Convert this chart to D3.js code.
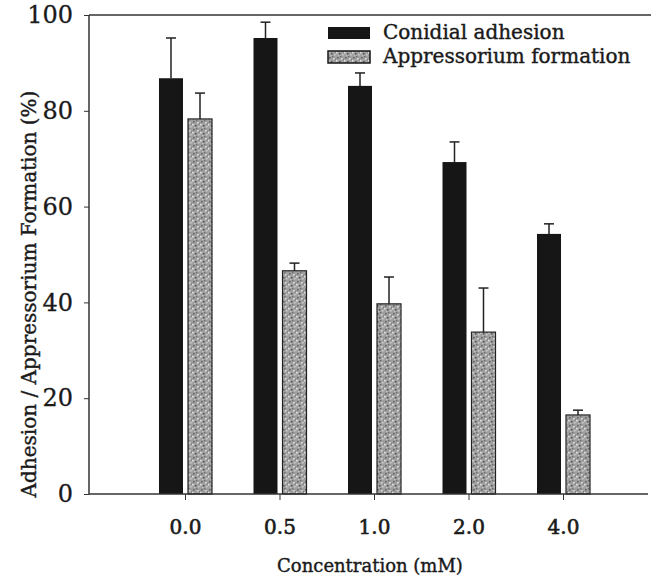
<!DOCTYPE html>
<html>
<head>
<meta charset="utf-8">
<script src="https://cdn.jsdelivr.net/npm/d3@7"></script>
<style>
  body { margin: 0; background: #fff; }
  svg text { font-family: "DejaVu Serif", serif; fill: #1a1a1a; }
</style>
</head>
<body>
<svg id="chart" width="651" height="577"></svg>
<script>
const categories = ['0.0', '0.5', '1.0', '2.0', '4.0'];
const adhesion = [86.8, 95.2, 85.2, 69.3, 54.3];
const adhesionErr = [8.4, 3.3, 2.7, 4.2, 2.1];
const appressorium = [78.3, 46.6, 39.7, 33.8, 16.5];
const appressoriumErr = [5.4, 1.6, 5.6, 9.2, 1.0];
const yTicks = [0, 20, 40, 60, 80, 100];
const seriesNames = ['Conidial adhesion', 'Appressorium formation'];

const svg = d3.select('#chart');
const plotL = 89, plotR = 648, plotT = 15, plotB = 494;

// speckled grey fill for the second series
const defs = svg.append('defs');
const pat = defs.append('pattern')
  .attr('id', 'speckle').attr('patternUnits', 'userSpaceOnUse')
  .attr('width', 8).attr('height', 8);
pat.append('rect').attr('width', 8).attr('height', 8).attr('fill', '#a0a0a0');
const dots = [[1, 1, '#5a5a5a'], [5, 2, '#dcdcdc'], [3, 5, '#505050'], [6, 6, '#cfcfcf'], [0, 4, '#e4e4e4'], [4, 0, '#707070'], [7, 3, '#808080'], [2, 7, '#bdbdbd']];
pat.selectAll('rect.d').data(dots).enter().append('rect')
  .attr('class', 'd').attr('x', d => d[0]).attr('y', d => d[1])
  .attr('width', 1.5).attr('height', 1.5).attr('fill', d => d[2]);

const x = d3.scalePoint().domain(categories).range([185, 563]);
const y = d3.scaleLinear().domain([0, 100]).range([plotB, plotT]);

const barW = 24;

// top frame line
svg.append('line').attr('x1', plotL).attr('x2', 651).attr('y1', plotT).attr('y2', plotT)
  .attr('stroke', '#333').attr('stroke-width', 1.5);

// bars
const g = svg.append('g');
g.selectAll('.b1').data(adhesion).enter().append('rect')
  .attr('class', 'b1')
  .attr('x', (d, i) => x(categories[i]) - 26)
  .attr('y', d => y(d))
  .attr('width', barW)
  .attr('height', d => plotB - y(d))
  .attr('fill', '#161616');
g.selectAll('.b2').data(appressorium).enter().append('rect')
  .attr('class', 'b2')
  .attr('x', (d, i) => x(categories[i]) + 3)
  .attr('y', d => y(d))
  .attr('width', barW)
  .attr('height', d => plotB - y(d))
  .attr('fill', 'url(#speckle)')
  .attr('stroke', '#222').attr('stroke-width', 1.2);

// error bars (upper only)
function errBars(vals, errs, off) {
  const eg = g.append('g').attr('stroke', '#222').attr('stroke-width', 1.5);
  vals.forEach((v, i) => {
    const cx = x(categories[i]) + off;
    eg.append('line').attr('x1', cx).attr('x2', cx).attr('y1', y(v)).attr('y2', y(v + errs[i]));
    eg.append('line').attr('x1', cx - 5).attr('x2', cx + 5).attr('y1', y(v + errs[i])).attr('y2', y(v + errs[i]));
  });
}
errBars(adhesion, adhesionErr, -14);
errBars(appressorium, appressoriumErr, 15);

// axes
const yAxis = svg.append('g').attr('transform', `translate(${plotL},0)`)
  .call(d3.axisLeft(y).tickValues(yTicks).tickSize(5).tickPadding(11).tickFormat(d3.format('d')));
yAxis.select('.domain').attr('stroke', '#333').attr('stroke-width', 1.5).attr('d', `M0,${plotT}V${plotB}`);
yAxis.selectAll('.tick line').attr('stroke', '#333');
yAxis.selectAll('.tick text').attr('font-size', 24).attr('fill', '#1a1a1a')
  .attr('font-family', '"Liberation Serif", serif').attr('stroke', '#1a1a1a').attr('stroke-width', 0.3);

const xAxis = svg.append('g').attr('transform', `translate(0,${plotB})`)
  .call(d3.axisBottom(x).tickSize(6).tickPadding(20));
xAxis.select('.domain').attr('stroke', '#333').attr('stroke-width', 1.5).attr('d', `M${plotL},0H${plotR}`);
xAxis.selectAll('.tick line').attr('stroke', '#333');
xAxis.selectAll('.tick text').attr('font-size', 20).attr('fill', '#1a1a1a')
  .attr('font-family', '"DejaVu Serif", serif').attr('stroke', '#1a1a1a').attr('stroke-width', 0.6);

// axis titles
svg.append('text')
  .attr('transform', 'translate(36,294) rotate(-90)')
  .attr('text-anchor', 'middle')
  .attr('font-size', 20)
  .attr('stroke', '#1a1a1a').attr('stroke-width', 0.4)
  .text('Adhesion / Appressorium Formation (%)');
svg.append('text')
  .attr('x', 370).attr('y', 572)
  .attr('text-anchor', 'middle')
  .attr('font-size', 18)
  .attr('stroke', '#1a1a1a').attr('stroke-width', 0.4)
  .text('Concentration (mM)');

// legend
const lg = svg.append('g');
const rows = [{ fill: '#161616', y: 27 }, { fill: 'url(#speckle)', y: 51 }];
rows.forEach((r, i) => {
  lg.append('rect').attr('x', 328).attr('y', r.y).attr('width', 42).attr('height', 12)
    .attr('fill', r.fill).attr('stroke', '#161616').attr('stroke-width', i ? 1.5 : 0);
  lg.append('text').attr('x', 383).attr('y', r.y + 12).attr('font-size', 20)
    .attr('stroke', '#1a1a1a').attr('stroke-width', 0.4).text(seriesNames[i]);
});
</script>
</body>
</html>
